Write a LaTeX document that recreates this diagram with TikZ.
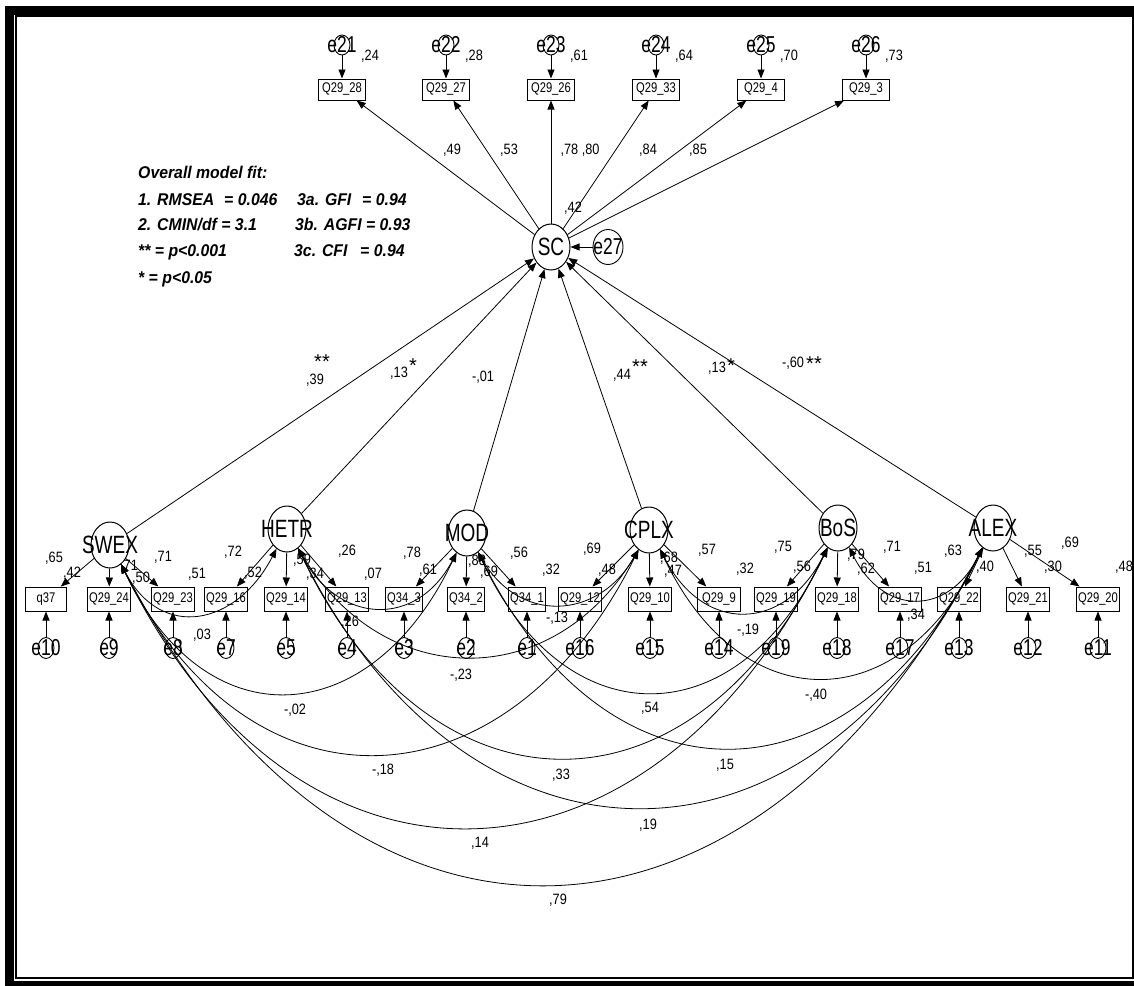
\documentclass[tikz,border=0pt]{standalone}
\usepackage{fontspec}
\setmainfont{Liberation Sans}
\newfontfamily\narfont[FakeStretch=0.85]{Liberation Sans}
\newfontfamily\latfont[FakeStretch=0.76]{Liberation Sans}
\newfontfamily\boxfont[FakeStretch=0.8]{Liberation Sans}
\newfontfamily\fitfont[FakeStretch=0.93]{Liberation Sans}
\usetikzlibrary{shapes.geometric,arrows.meta,calc}
\newcommand{\covpath}[4]{\draw[cov] (#1.-60) .. controls ($(#1.-60)+(#4,#3)$) and ($(#2.-118)+(-#4,#3)$) .. (#2.-118);}
\newcommand{\latnode}[3]{\node[lat] (#1) at (#2) {}; \node[ltxt] (#1t) at (#1) {#3};}
\begin{document}
\begin{tikzpicture}[x=1pt,y=-1pt,
  >={Triangle[length=9pt,width=7pt]},
  lat/.style={draw, ellipse, minimum width=38pt, minimum height=46pt, inner sep=0pt, line width=1pt},
  err/.style={draw, ellipse, minimum width=16pt, minimum height=21pt, inner sep=0pt, line width=0.9pt},
  ltxt/.style={font=\latfont\fontsize{25}{25}\selectfont, inner sep=0pt},
  etxt/.style={font=\latfont\fontsize{23}{23}\selectfont, inner sep=0pt},
  obs/.style={draw, rectangle, minimum height=24pt, inner xsep=1.5pt, inner ysep=0pt, font=\boxfont\fontsize{14}{14}\selectfont, line width=1pt},
  tobs/.style={obs, minimum width=47pt, minimum height=21pt},
  num/.style={font=\narfont\fontsize{15}{15}\selectfont, inner sep=0pt},
  star/.style={font=\fontsize{20}{20}\selectfont, inner sep=0pt},
  fitt/.style={font=\fitfont\bfseries\itshape\fontsize{17}{17}\selectfont, inner sep=0pt, anchor=base west},
  pth/.style={->, line width=0.8pt},
  cov/.style={<->, line width=0.8pt}]
\useasboundingbox (0,0) rectangle (1134,985);
\clip (0,0) rectangle (1134,985);
\fill[white] (0,0) rectangle (1134,985);
% frame
\draw[line width=9pt] (9.5,10) rectangle (1145,985.5);
\draw[line width=2pt] (16,16) rectangle (1133,977.5);

% SC and top indicators
\latnode{SC}{551,247}{SC}
\node[draw, ellipse, minimum width=30pt, minimum height=35pt, inner sep=0pt, line width=0.9pt] (e27) at (608,247) {};
\node[etxt] (e27t) at (e27) {e27};
\draw[pth] (e27) -- (SC);

\node[tobs] (t28) at (342,89.5) {Q29\_28};
\node[tobs] (t27) at (446,89.5) {Q29\_27};
\node[tobs] (t26) at (551,89.5) {Q29\_26};
\node[tobs] (t33) at (656,89.5) {Q29\_33};
\node[tobs] (t4) at (761,89.5) {Q29\_4};
\node[tobs] (t3) at (866,89.5) {Q29\_3};
\foreach \b/\e/\x in {t28/e21/342,t27/e22/446,t26/e23/551,t33/e24/656,t4/e25/761,t3/e26/866}{
  \node[err, minimum height=20pt] (\e) at (\x,45) {};
  \node[etxt] (\e t) at (\e) {\e};
  \draw[pth] (\e) -- (\b);
  \draw[pth] (SC) -- (\b);
}
\node[num] (r24) at (370,56) {,24};
\node[num] (r28) at (474,56) {,28};
\node[num] (r61) at (579,56) {,61};
\node[num] (r64) at (684,56) {,64};
\node[num] (r70) at (789,56) {,70};
\node[num] (r73) at (894,56) {,73};
\node[num] (w49) at (452,150) {,49};
\node[num] (w53) at (509,150) {,53};
\node[num] (w78) at (580,150) {,78 ,80};
\node[num] (w84) at (648,150) {,84};
\node[num] (w85) at (698,150) {,85};
\node[num] (r42) at (573,208) {,42};

% fit text
\node[fitt] (f0) at (138,178) {Overall model fit:};
\node[fitt] (f1) at (138,205) {1. RMSEA};
\node[fitt] (f1b) at (224,205) {= 0.046};
\node[fitt] (f1c) at (297,205) {3a. GFI};
\node[fitt] (f1d) at (362,205) {= 0.94};
\node[fitt] (f2) at (138,230) {2. CMIN/df = 3.1};
\node[fitt] (f2c) at (295,230) {3b. AGFI = 0.93};
\node[fitt] (f3) at (138,256) {** = p<0.001};
\node[fitt] (f3c) at (294,256) {3c. CFI};
\node[fitt] (f3d) at (360,256) {= 0.94};
\node[fitt] (f4) at (138,283) {* = p<0.05};

% exogenous latents
\latnode{SWEX}{110,545}{SWEX}
\latnode{HETR}{287,529}{HETR}
\latnode{MOD}{467,533}{MOD}
\latnode{CPLX}{649,530}{CPLX}
\latnode{BoS}{838,528}{BoS}
\latnode{ALEX}{993,528}{ALEX}
\foreach \l in {SWEX,HETR,MOD,CPLX,BoS,ALEX}{\draw[pth] (\l) -- (SC);}

% structural labels
\node[star] (s1) at (322,362) {**};
\node[num] (m1) at (315,380) {,39};
\node[num] (m2) at (399,373) {,13};
\node[star] (s2) at (413,366) {*};
\node[num] (m3) at (483,377) {-,01};
\node[num] (m4) at (622,375) {,44};
\node[star] (s4) at (640,367) {**};
\node[num] (m5) at (717,368) {,13};
\node[star] (s5) at (731,366) {*};
\node[num] (m6) at (793,363) {-,60};
\node[star] (s6) at (814,364) {**};

% bottom indicators
\foreach \n/\t/\x/\e/\l/\w in {
  q37/q37/46/e10/SWEX/41, q24/Q29\_24/109/e9/SWEX/40, q23/Q29\_23/173/e8/SWEX/40,
  q16/Q29\_16/226/e7/HETR/40, q14/Q29\_14/286/e5/HETR/40, q13/Q29\_13/347/e4/HETR/40,
  p3/Q34\_3/404/e3/MOD/35, p2/Q34\_2/466/e2/MOD/35, p1/Q34\_1/527/e1/MOD/35,
  q12/Q29\_12/580/e16/CPLX/40, q10/Q29\_10/650/e15/CPLX/40, q9/Q29\_9/719/e14/CPLX/43,
  q19/Q29\_19/776/e19/BoS/40, q18/Q29\_18/837/e18/BoS/40, q17/Q29\_17/900/e17/BoS/40,
  q22/Q29\_22/959/e13/ALEX/40, q21/Q29\_21/1028/e12/ALEX/40, q20/Q29\_20/1098/e11/ALEX/40}{
  \node[obs, minimum width=\w pt] (\n) at (\x,599) {\t};
  \node[err] (\e) at (\x,648) {};
  \node[etxt] (\e t) at (\e) {\e};
  \draw[pth] (\e) -- (\n);
  \draw[pth] (\l) -- (\n);
}

% loading labels
\node[num] (a1) at (54,558) {,65};
\node[num] (a2) at (72,573) {,42};
\node[num] (a3) at (129,566) {,71};
\node[num] (a4) at (141,578) {,50};
\node[num] (a5) at (163,557) {,71};
\node[num] (a6) at (197,574) {,51};
\node[num] (b1) at (233,552) {,72};
\node[num] (b2) at (253,573) {,52};
\node[num] (b3) at (302,560) {,59};
\node[num] (b4) at (315,574) {,34};
\node[num] (b5) at (347,551) {,26};
\node[num] (b6) at (373,574) {,07};
\node[num] (c1) at (412,553) {,78};
\node[num] (c2) at (428,570) {,61};
\node[num] (c3) at (477,561) {,83};
\node[num] (c4) at (489,572) {,69};
\node[num] (c5) at (519,553) {,56};
\node[num] (c6) at (551,570) {,32};
\node[num] (d1) at (592,549) {,69};
\node[num] (d2) at (607,570) {,48};
\node[num] (d3) at (669,558) {,68};
\node[num] (d4) at (673,571) {,47};
\node[num] (d5) at (707,550) {,57};
\node[num] (d6) at (745,569) {,32};
\node[num] (g1) at (783,547) {,75};
\node[num] (g2) at (802,567) {,56};
\node[num] (g3) at (856,555) {,79};
\node[num] (g4) at (866,569) {,62};
\node[num] (g5) at (892,547) {,71};
\node[num] (g6) at (923,568) {,51};
\node[num] (h1) at (953,551) {,63};
\node[num] (h2) at (985,567) {,40};
\node[num] (h3) at (1033,551) {,55};
\node[num] (h4) at (1053,567) {,30};
\node[num] (h5) at (1070,543) {,69};
\node[num] (h6) at (1124,567) {,48};

% covariances
\covpath{SWEX}{HETR}{77}{40}
\covpath{HETR}{MOD}{76}{40}
\covpath{MOD}{CPLX}{71}{41}
\covpath{CPLX}{BoS}{85}{43}
\covpath{BoS}{ALEX}{69}{34}
\covpath{SWEX}{MOD}{179}{85}
\covpath{HETR}{CPLX}{143}{86}
\covpath{MOD}{BoS}{189}{88}
\covpath{CPLX}{ALEX}{172}{81}
\covpath{SWEX}{CPLX}{262}{130}
\covpath{HETR}{BoS}{279}{133}
\covpath{MOD}{ALEX}{263}{131}
\covpath{SWEX}{BoS}{361}{177}
\covpath{HETR}{ALEX}{345}{172}
\covpath{SWEX}{ALEX}{437}{230}

\node[num] (k1) at (202,635) {,03};
\node[num] (k2) at (350,622) {,26};
\node[num] (k3) at (557,618) {-,13};
\node[num] (k4) at (748,630) {-,19};
\node[num] (k5) at (916,615) {,34};
\node[num] (k6) at (295,710) {-,02};
\node[num] (k7) at (461,675) {-,23};
\node[num] (k8) at (650,708) {,54};
\node[num] (k9) at (816,695) {-,40};
\node[num] (k10) at (383,770) {-,18};
\node[num] (k11) at (561,775) {,33};
\node[num] (k12) at (725,765) {,15};
\node[num] (k13) at (480,843) {,14};
\node[num] (k14) at (648,825) {,19};
\node[num] (k15) at (558,900) {,79};
\end{tikzpicture}
\end{document}
